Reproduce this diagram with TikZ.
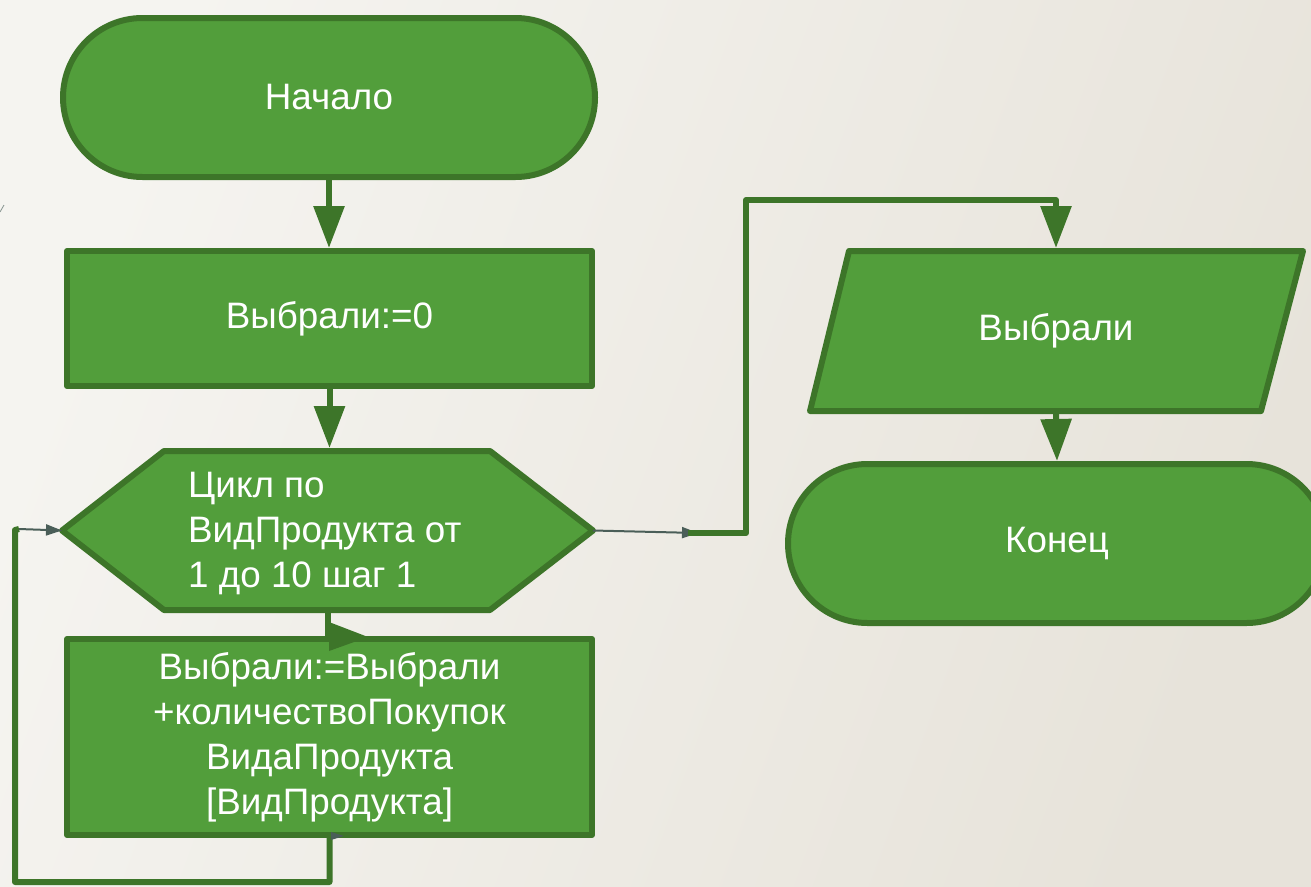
\documentclass[tikz,border=0pt]{standalone}
\usepackage{fontspec}
\setmainfont{Liberation Sans}
\usetikzlibrary{arrows.meta,shapes.misc}
\definecolor{fillg}{HTML}{529E3B}
\definecolor{edgeg}{HTML}{3D7529}
\definecolor{tipgray}{HTML}{4A5E58}
\definecolor{bgA}{HTML}{F5F4F0}
\definecolor{bgB}{HTML}{E7E3DA}
\tikzset{
  txt/.style={text=white, font=\fontsize{36.8}{45}\selectfont, inner sep=0pt},
  shapebase/.style={fill=fillg, draw=edgeg, line width=6pt, line join=round},
  termbox/.style={shapebase, txt, rounded rectangle, outer sep=3pt},
  procbox/.style={shapebase, txt, rectangle, align=center, outer sep=3pt},
  holder/.style={txt, rectangle, outer sep=3pt},
  flow/.style={edgeg, line width=6pt, line join=round, -{Triangle[width=30pt,length=42pt]}},
  thinflow/.style={tipgray, line width=2pt, -{Triangle[width=11pt,length=16pt]}},
  plainflow/.style={edgeg, line width=6pt, line join=round},
}
\begin{document}
\begin{tikzpicture}[x=1pt,y=-1pt]
\useasboundingbox (0,0) rectangle (1311,886);
\clip (0,0) rectangle (1311,886);
\shade[left color=bgA, right color=bgB, shading angle=70] (0,0) rectangle (1311,886);
\draw[tipgray!70, line width=0.8pt] (0,212) -- (4,205);

% nodes
\node[termbox, minimum width=532pt, minimum height=159pt] (start) at (329,97.5) {Начало};
\node[procbox, minimum width=525pt, minimum height=135pt] (box1) at (329.5,318.5) {Выбрали:=0};

\node[holder, minimum width=525pt, minimum height=159pt] (hex) at (327.5,530.5) {};
\draw[shapebase] (hex.west) -- ([xshift=102pt,yshift=-3pt]hex.north west)
  -- ([xshift=-103pt,yshift=-3pt]hex.north east) -- (hex.east)
  -- ([xshift=-103pt,yshift=3pt]hex.south east) -- ([xshift=102pt,yshift=3pt]hex.south west) -- cycle;
\node[txt, align=left, anchor=west] (hextext) at (188,533) {Цикл по\\ВидПродукта от\\1 до 10 шаг 1};

\node[procbox, minimum width=525pt, minimum height=196pt] (body) at (329.5,737)
  {Выбрали:=Выбрали\\+количествоПокупок\\ВидаПродукта\\[0pt][ВидПродукта]};

\draw[shapebase] (849,251) -- (1303,251) -- (1261,411) -- (810,411) -- cycle;
\node[holder, minimum width=450pt, minimum height=160pt] (out) at (1056,331) {Выбрали};

\node[termbox, minimum width=538pt, minimum height=159pt] (end) at (1057,543.5) {Конец};

% connectors
\draw[flow] (start.south) -- (start.south |- box1.north);
\draw[flow] (box1.south) -- (box1.south |- hex.north);
\draw[plainflow] (hex.south) -- (hex.south |- body.north);
\fill[edgeg] (329,622) -- (368,637) -- (329,651) -- cycle;

\coordinate (lpA) at (15,882);
\coordinate (lpB) at (15,530);
\coordinate (lpC) at (19,529);
\draw[plainflow] (body.south) |- (lpA) -- (lpB) -- (lpC);
\draw[thinflow] (lpC) -- (hex.west);
\fill[tipgray] (331,832) -- (344,836) -- (331,840) -- cycle;

\coordinate (rA) at (698,533);
\coordinate (rB) at (688,533);
\coordinate (rC) at (746,200);
\draw[thinflow] (hex.east) -- (rA);
\draw[flow] (rB) -| (rC) -| (out.north);
\draw[flow] (out.south) -- (end.north);
\end{tikzpicture}
\end{document}
